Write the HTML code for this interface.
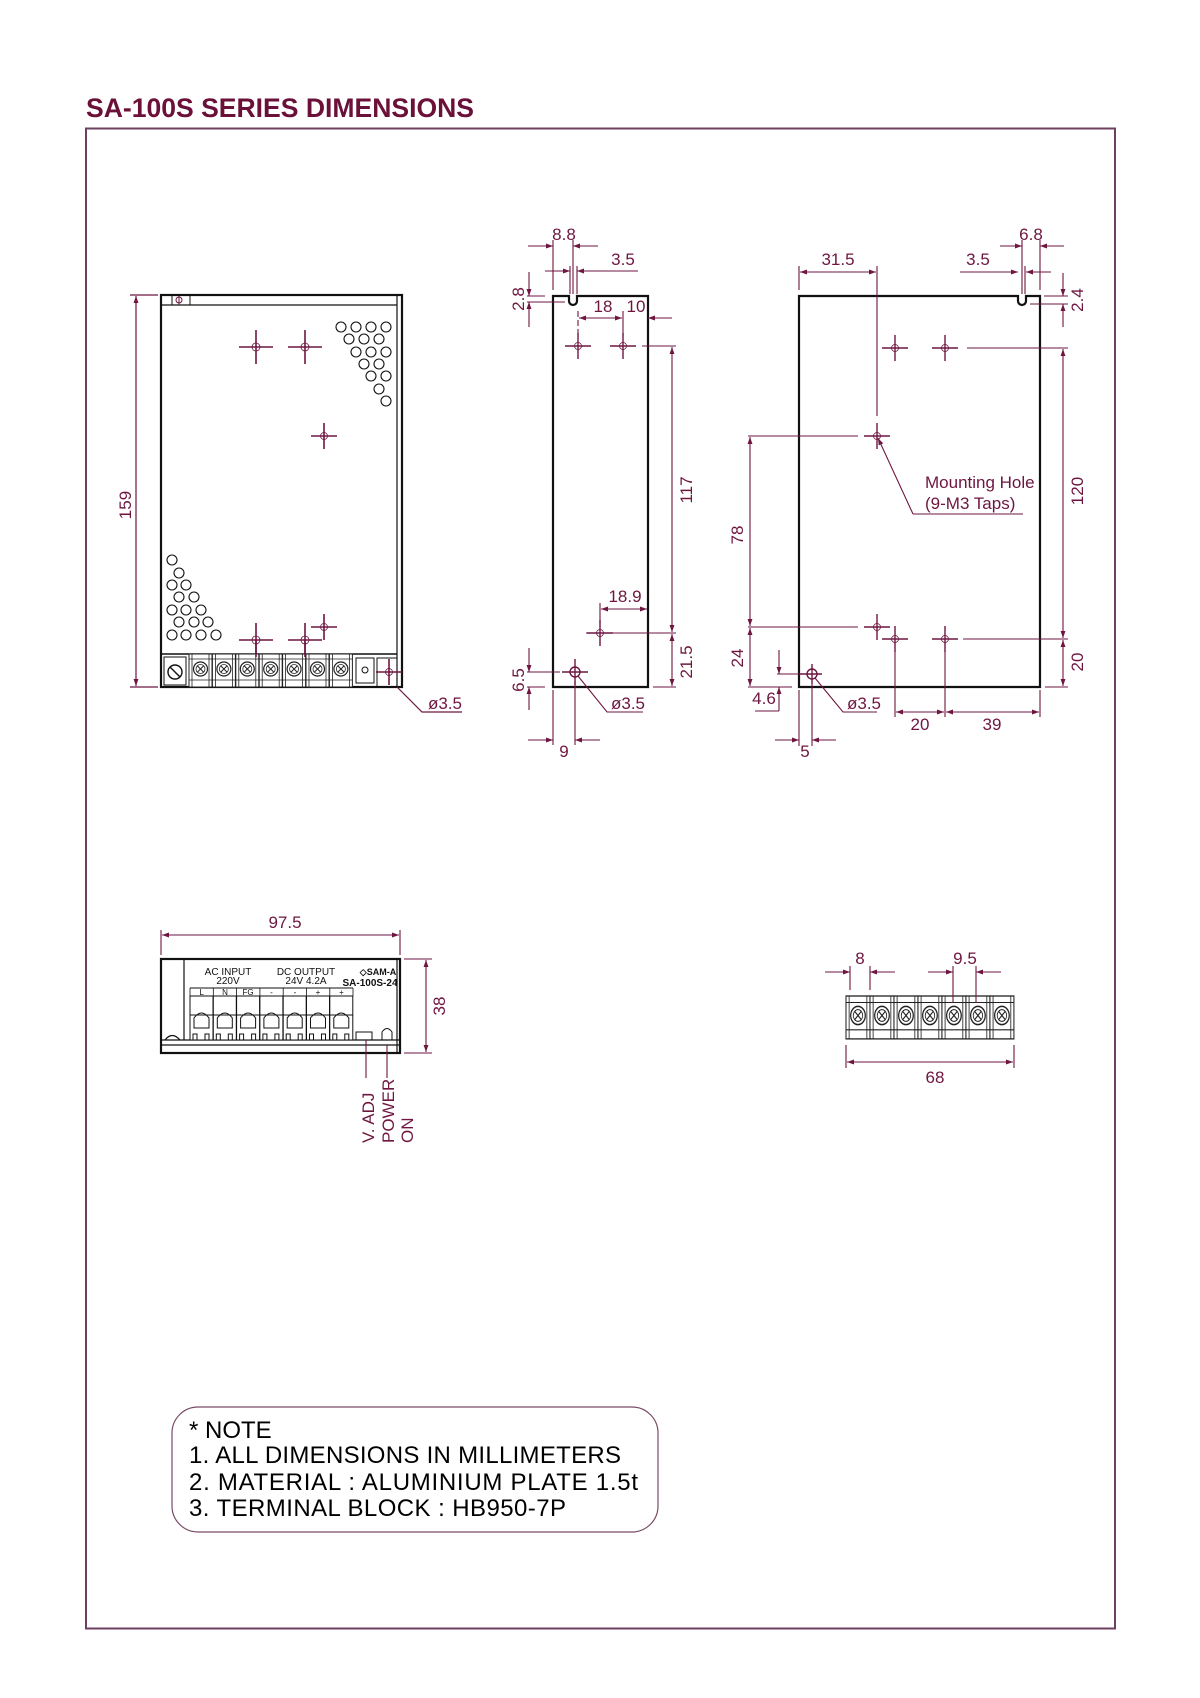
<!DOCTYPE html>
<html><head><meta charset="utf-8"><style>
html,body{margin:0;padding:0;background:#fff}
svg{display:block}
text{font-family:"Liberation Sans",sans-serif}
</style></head><body>
<svg width="1200" height="1698" viewBox="0 0 1200 1698" xmlns="http://www.w3.org/2000/svg">
<defs>
<marker id="a" viewBox="0 0 10 10" refX="10" refY="5" markerWidth="9" markerHeight="7" orient="auto-start-reverse" markerUnits="userSpaceOnUse"><path d="M0,1.5 L10,5 L0,8.5 z" fill="#6e1640"/></marker>
<g id="tb">
<rect x="0" y="0" width="23" height="33" fill="#fff" stroke="#222" stroke-width="1"/>
<line x1="0" y1="5" x2="23" y2="5" stroke="#222" stroke-width="0.8"/>
<line x1="0" y1="26" x2="23" y2="26" stroke="#222" stroke-width="0.8"/>
<line x1="3" y1="0" x2="3" y2="33" stroke="#222" stroke-width="0.8"/>
<line x1="20" y1="0" x2="20" y2="33" stroke="#222" stroke-width="0.8"/>
<circle cx="11.5" cy="15" r="7" fill="#fff" stroke="#222" stroke-width="1.2"/>
<circle cx="11.5" cy="15" r="4.5" fill="none" stroke="#222" stroke-width="0.8"/>
<path d="M8.5,12 L14.5,18 M14.5,12 L8.5,18" stroke="#222" stroke-width="1"/>
</g>
<g id="bt" fill="#fff" stroke="#111" stroke-width="1">
<rect x="0" y="996" width="23" height="44"/>
<path d="M4,1018 Q11.5,1008 19,1018 V1028 H4 Z" fill="none"/>
<line x1="0" y1="1015" x2="23" y2="1015"/>
<rect x="3" y="1034" width="4" height="6"/><rect x="15" y="1034" width="4" height="6"/>
</g>
<g id="hx"><line x1="-17" y1="0" x2="17" y2="0"/><line x1="0" y1="-17" x2="0" y2="17"/><circle r="4" fill="none" stroke-width="0.8"/></g>
<g id="hs"><line x1="-13" y1="0" x2="13" y2="0"/><line x1="0" y1="-13" x2="0" y2="13"/><circle r="3.5" fill="none" stroke-width="0.8"/></g>
</defs>

<text x="86" y="117" font-size="27" font-weight="bold" fill="#6b1038" textLength="388" lengthAdjust="spacingAndGlyphs">SA-100S  SERIES  DIMENSIONS</text>
<rect x="86" y="128.5" width="1029" height="1500" fill="none" stroke="#6e4060" stroke-width="2"/>

<!-- ===== FRONT VIEW ===== -->
<g stroke="#111" fill="none">
<rect x="161" y="295" width="241" height="392" stroke-width="2.2"/>
<line x1="397" y1="295" x2="397" y2="687" stroke-width="1.2"/>
<line x1="161" y1="305" x2="397" y2="305" stroke-width="1.2"/>
<line x1="190" y1="295" x2="190" y2="305" stroke-width="1"/>
<line x1="172" y1="295" x2="172" y2="305" stroke-width="1"/>
<line x1="161" y1="654" x2="397" y2="654" stroke-width="1.6"/>
<rect x="164" y="657" width="22" height="28" stroke-width="1"/>
<circle cx="175" cy="672" r="7" stroke-width="1.4"/>
<path d="M170,667 L180,677" stroke-width="1.4"/>
<rect x="356" y="658" width="18" height="25" stroke-width="1"/>
<circle cx="365" cy="670" r="3" stroke-width="1"/>
<rect x="377" y="658" width="20" height="29" stroke-width="1"/>
</g>
<g fill="none" stroke="#111" stroke-width="1.1">
<circle cx="341" cy="327" r="5"/><circle cx="356" cy="327" r="5"/><circle cx="371" cy="327" r="5"/><circle cx="386" cy="327" r="5"/>
<circle cx="349" cy="339" r="5"/><circle cx="364" cy="339" r="5"/><circle cx="379" cy="339" r="5"/>
<circle cx="356" cy="352" r="5"/><circle cx="371" cy="352" r="5"/><circle cx="386" cy="352" r="5"/>
<circle cx="364" cy="364" r="5"/><circle cx="379" cy="364" r="5"/>
<circle cx="371" cy="376" r="5"/><circle cx="386" cy="376" r="5"/>
<circle cx="379" cy="389" r="5"/>
<circle cx="386" cy="401" r="5"/>
<circle cx="172" cy="560" r="5"/>
<circle cx="179" cy="573" r="5"/>
<circle cx="172" cy="585" r="5"/><circle cx="186" cy="585" r="5"/>
<circle cx="179" cy="597" r="5"/><circle cx="194" cy="597" r="5"/>
<circle cx="172" cy="610" r="5"/><circle cx="186" cy="610" r="5"/><circle cx="201" cy="610" r="5"/>
<circle cx="179" cy="622" r="5"/><circle cx="194" cy="622" r="5"/><circle cx="208" cy="622" r="5"/>
<circle cx="172" cy="635" r="5"/><circle cx="186" cy="635" r="5"/><circle cx="201" cy="635" r="5"/><circle cx="216" cy="635" r="5"/>
</g>
<g transform="translate(189,654)">
<use href="#tb" x="0"/><use href="#tb" x="23.4"/><use href="#tb" x="46.8"/><use href="#tb" x="70.2"/><use href="#tb" x="93.6"/><use href="#tb" x="117"/><use href="#tb" x="140.4"/>
</g>
<g stroke="#6e1640" stroke-width="1.6" fill="none">
<use href="#hx" x="256" y="347"/><use href="#hx" x="305" y="347"/>
<use href="#hs" x="324" y="436"/>
<use href="#hx" x="256" y="640"/><use href="#hx" x="305" y="640"/>
<use href="#hs" x="324" y="627"/>
<use href="#hs" x="389" y="672"/>
<line x1="256" y1="640" x2="256" y2="654"/><line x1="305" y1="640" x2="305" y2="654"/>
</g>
<g stroke="#6e1640" stroke-width="1" fill="none"><circle cx="179" cy="300" r="3"/><line x1="179" y1="296" x2="179" y2="305"/></g>
<g stroke="#6e1640" stroke-width="1.2" fill="none">
<line x1="130" y1="295" x2="158" y2="295"/><line x1="130" y1="687" x2="158" y2="687"/>
<line x1="136" y1="296" x2="136" y2="686" marker-start="url(#a)" marker-end="url(#a)"/>
<polyline points="397,687 422,712 462,712"/>
</g>
<text transform="translate(131,505) rotate(-90)" font-size="17" fill="#6e1640" text-anchor="middle">159</text>
<text x="428" y="709" font-size="17" fill="#6e1640">ø3.5</text>

<!-- ===== SIDE VIEW ===== -->
<g stroke="#111" stroke-width="2.2" fill="none">
<path d="M553,296 H569 V301 A4,4 0 0 0 577,301 V296 H648 V687 H553 Z"/>
</g>
<g stroke="#6e1640" stroke-width="1.4" fill="none">
<use href="#hs" x="578" y="346"/><use href="#hs" x="623" y="346"/><use href="#hs" x="600" y="633"/>
<line x1="562" y1="672" x2="588" y2="672"/><line x1="575" y1="659" x2="575" y2="685"/><circle cx="575" cy="672" r="5"/>
</g>
<g stroke="#6e1640" stroke-width="1.1" fill="none">
<line x1="553" y1="240" x2="553" y2="290"/><line x1="573" y1="240" x2="573" y2="294"/>
<line x1="528" y1="246" x2="553" y2="246" marker-end="url(#a)"/><line x1="598" y1="246" x2="573" y2="246" marker-end="url(#a)"/>
<line x1="570" y1="266" x2="570" y2="294"/><line x1="577" y1="266" x2="577" y2="294"/>
<line x1="545" y1="271" x2="570" y2="271" marker-end="url(#a)"/><line x1="638" y1="271" x2="577" y2="271" marker-end="url(#a)"/>
<line x1="527" y1="296" x2="545" y2="296"/><line x1="527" y1="302" x2="565" y2="302"/>
<line x1="529" y1="272" x2="529" y2="296" marker-end="url(#a)"/><line x1="529" y1="327" x2="529" y2="302" marker-end="url(#a)"/>
<line x1="578" y1="311" x2="578" y2="336" stroke-dasharray="6,3"/><line x1="623" y1="311" x2="623" y2="336"/>
<line x1="579" y1="318" x2="622" y2="318" marker-start="url(#a)" marker-end="url(#a)"/>
<line x1="672" y1="318" x2="648" y2="318" marker-end="url(#a)"/>
<line x1="642" y1="346" x2="676" y2="346"/>
<line x1="672" y1="347" x2="672" y2="632" marker-start="url(#a)" marker-end="url(#a)"/>
<line x1="586" y1="633" x2="676" y2="633"/>
<line x1="672" y1="634" x2="672" y2="686" marker-start="url(#a)" marker-end="url(#a)"/>
<line x1="653" y1="687" x2="676" y2="687"/>
<line x1="600" y1="603" x2="600" y2="624"/>
<line x1="601" y1="609" x2="647" y2="609" marker-start="url(#a)" marker-end="url(#a)"/>
<line x1="527" y1="672" x2="560" y2="672"/><line x1="527" y1="687" x2="545" y2="687"/>
<line x1="529" y1="648" x2="529" y2="672" marker-end="url(#a)"/><line x1="529" y1="710" x2="529" y2="687" marker-end="url(#a)"/>
<line x1="553" y1="690" x2="553" y2="745"/><line x1="575" y1="681" x2="575" y2="745"/>
<line x1="528" y1="740" x2="553" y2="740" marker-end="url(#a)"/><line x1="600" y1="740" x2="575" y2="740" marker-end="url(#a)"/>
<polyline points="578,676 607,712 643,712"/>
</g>
<g font-size="17" fill="#6e1640">
<text x="564" y="240" text-anchor="middle">8.8</text>
<text x="623" y="265" text-anchor="middle">3.5</text>
<text transform="translate(524,299) rotate(-90)" text-anchor="middle">2.8</text>
<text x="603" y="312" text-anchor="middle">18</text>
<text x="636" y="312" text-anchor="middle">10</text>
<text transform="translate(692,490) rotate(-90)" text-anchor="middle">117</text>
<text x="625" y="602" text-anchor="middle">18.9</text>
<text transform="translate(692,662) rotate(-90)" text-anchor="middle">21.5</text>
<text transform="translate(524,680) rotate(-90)" text-anchor="middle">6.5</text>
<text x="611" y="709">ø3.5</text>
<text x="564" y="757" text-anchor="middle">9</text>
</g>

<!-- ===== BACK VIEW ===== -->
<g stroke="#111" stroke-width="2.2" fill="none">
<path d="M799,296 H1018 V301 A4,4 0 0 0 1026,301 V296 H1040 V687 H799 Z"/>
</g>
<g stroke="#6e1640" stroke-width="1.4" fill="none">
<use href="#hs" x="895" y="348"/><use href="#hs" x="945" y="348"/>
<use href="#hs" x="877" y="436"/><use href="#hs" x="877" y="627"/>
<use href="#hs" x="895" y="639"/><use href="#hs" x="945" y="639"/>
<line x1="800" y1="674" x2="822" y2="674"/><line x1="812" y1="664" x2="812" y2="684"/><circle cx="812" cy="674" r="5"/>
</g>
<g stroke="#6e1640" stroke-width="1.1" fill="none">
<line x1="799" y1="266" x2="799" y2="290"/><line x1="877" y1="266" x2="877" y2="416"/>
<line x1="800" y1="272" x2="876" y2="272" marker-start="url(#a)" marker-end="url(#a)"/>
<line x1="1022" y1="240" x2="1022" y2="294"/><line x1="1025" y1="266" x2="1025" y2="294"/><line x1="1040" y1="240" x2="1040" y2="290"/>
<line x1="960" y1="272" x2="1018" y2="272" marker-end="url(#a)"/><line x1="1051" y1="272" x2="1026" y2="272" marker-end="url(#a)"/>
<line x1="1000" y1="246" x2="1022" y2="246" marker-end="url(#a)"/><line x1="1064" y1="246" x2="1040" y2="246" marker-end="url(#a)"/>
<line x1="1044" y1="296" x2="1068" y2="296"/><line x1="1030" y1="304" x2="1068" y2="304"/>
<line x1="1063" y1="273" x2="1063" y2="296" marker-end="url(#a)"/><line x1="1063" y1="327" x2="1063" y2="304" marker-end="url(#a)"/>
<line x1="967" y1="348" x2="1068" y2="348"/>
<line x1="1063" y1="349" x2="1063" y2="638" marker-start="url(#a)" marker-end="url(#a)"/>
<line x1="963" y1="639" x2="1068" y2="639"/>
<line x1="1063" y1="640" x2="1063" y2="686" marker-start="url(#a)" marker-end="url(#a)"/>
<line x1="1045" y1="687" x2="1068" y2="687"/>
<line x1="748" y1="436" x2="858" y2="436"/><line x1="748" y1="627" x2="858" y2="627"/>
<line x1="750" y1="437" x2="750" y2="626" marker-start="url(#a)" marker-end="url(#a)"/>
<line x1="750" y1="628" x2="750" y2="686" marker-start="url(#a)" marker-end="url(#a)"/>
<line x1="748" y1="687" x2="792" y2="687"/><line x1="777" y1="674" x2="800" y2="674"/>
<line x1="779" y1="650" x2="779" y2="674" marker-end="url(#a)"/><line x1="779" y1="711" x2="779" y2="687" marker-end="url(#a)"/>
<line x1="755" y1="711" x2="779" y2="711"/>
<line x1="799" y1="690" x2="799" y2="746"/><line x1="812" y1="683" x2="812" y2="746"/>
<line x1="775" y1="740" x2="799" y2="740" marker-end="url(#a)"/><line x1="836" y1="740" x2="812" y2="740" marker-end="url(#a)"/>
<line x1="895" y1="650" x2="895" y2="717"/><line x1="945" y1="650" x2="945" y2="717"/><line x1="1040" y1="690" x2="1040" y2="717"/>
<line x1="896" y1="712" x2="944" y2="712" marker-start="url(#a)" marker-end="url(#a)"/>
<line x1="946" y1="712" x2="1039" y2="712" marker-start="url(#a)" marker-end="url(#a)"/>
<line x1="878" y1="438" x2="913" y2="514" marker-start="url(#a)"/>
<line x1="913" y1="514" x2="1023" y2="514"/>
<polyline points="815,678 843,712 877,712"/>
</g>
<g font-size="17" fill="#6e1640">
<text x="838" y="265" text-anchor="middle">31.5</text>
<text x="978" y="265" text-anchor="middle">3.5</text>
<text x="1031" y="240" text-anchor="middle">6.8</text>
<text transform="translate(1083,300) rotate(-90)" text-anchor="middle">2.4</text>
<text transform="translate(1083,491) rotate(-90)" text-anchor="middle">120</text>
<text transform="translate(1083,662) rotate(-90)" text-anchor="middle">20</text>
<text transform="translate(743,535) rotate(-90)" text-anchor="middle">78</text>
<text transform="translate(743,658) rotate(-90)" text-anchor="middle">24</text>
<text x="764" y="704" text-anchor="middle">4.6</text>
<text x="805" y="757" text-anchor="middle">5</text>
<text x="920" y="730" text-anchor="middle">20</text>
<text x="992" y="730" text-anchor="middle">39</text>
<text x="847" y="709">ø3.5</text>
<text x="925" y="488">Mounting Hole</text>
<text x="925" y="509">(9-M3 Taps)</text>
</g>

<!-- ===== BOTTOM/SIDE VIEW ===== -->
<g stroke="#111" fill="none">
<rect x="161" y="959" width="239" height="94" stroke-width="2.2"/>
<line x1="184" y1="959" x2="184" y2="1040" stroke-width="1.2"/>
<line x1="397" y1="959" x2="397" y2="1053" stroke-width="1.2"/>
<line x1="161" y1="1040" x2="400" y2="1040" stroke-width="1.2"/>
<line x1="161" y1="1045" x2="400" y2="1045" stroke-width="1.2"/>
<path d="M165,1040 Q172,1031 180,1040" stroke-width="1.2"/>
<line x1="190" y1="988" x2="353" y2="988" stroke-width="1"/>
<line x1="190" y1="996" x2="353" y2="996" stroke-width="1"/>
<rect x="356" y="1032" width="16" height="8" stroke-width="1"/>
<path d="M382,1040 V1032 Q387,1025 392,1032 V1040" stroke-width="1"/>
</g>
<use href="#bt" x="190"/><use href="#bt" x="213.3"/><use href="#bt" x="236.6"/><use href="#bt" x="259.9"/><use href="#bt" x="283.2"/><use href="#bt" x="306.5"/><use href="#bt" x="329.8"/>
<g stroke="#111" stroke-width="0.8">
<line x1="190" y1="988" x2="190" y2="996"/><line x1="213.3" y1="988" x2="213.3" y2="996"/><line x1="236.6" y1="988" x2="236.6" y2="996"/><line x1="259.9" y1="988" x2="259.9" y2="996"/><line x1="283.2" y1="988" x2="283.2" y2="996"/><line x1="306.5" y1="988" x2="306.5" y2="996"/><line x1="329.8" y1="988" x2="329.8" y2="996"/><line x1="353" y1="988" x2="353" y2="996"/>
</g>
<g font-size="10" fill="#111" text-anchor="middle">
<text x="228" y="975">AC INPUT</text><text x="228" y="984">220V</text>
<text x="306" y="975">DC OUTPUT</text><text x="306" y="984">24V  4.2A</text>
<text x="378" y="975" font-weight="bold" font-size="9">◇SAM-A</text>
<text x="370" y="986" font-weight="bold" font-size="10">SA-100S-24</text>
</g>
<g font-size="8" fill="#111" text-anchor="middle">
<text x="201.6" y="995">L</text><text x="225" y="995">N</text><text x="248" y="995">FG</text><text x="271.5" y="995">-</text><text x="295" y="995">-</text><text x="318" y="995">+</text><text x="341.5" y="995">+</text>
</g>
<g stroke="#6e1640" stroke-width="1.1" fill="none">
<line x1="161" y1="930" x2="161" y2="955"/><line x1="400" y1="930" x2="400" y2="955"/>
<line x1="162" y1="935" x2="399" y2="935" marker-start="url(#a)" marker-end="url(#a)"/>
<line x1="404" y1="959" x2="432" y2="959"/><line x1="404" y1="1053" x2="432" y2="1053"/>
<line x1="426" y1="960" x2="426" y2="1052" marker-start="url(#a)" marker-end="url(#a)"/>
<line x1="366" y1="1040" x2="366" y2="1078"/><line x1="387" y1="1045" x2="387" y2="1078"/>
</g>
<g font-size="17" fill="#6e1640">
<text x="285" y="928" text-anchor="middle">97.5</text>
<text transform="translate(445,1006) rotate(-90)" text-anchor="middle">38</text>
<text transform="translate(374,1143) rotate(-90)">V. ADJ</text>
<text transform="translate(394,1143) rotate(-90)">POWER</text>
<text transform="translate(413,1143) rotate(-90)">ON</text>
</g>

<!-- ===== TERMINAL BLOCK ===== -->
<g transform="translate(846,996) scale(1.043,1.3)">
<use href="#tb" x="0"/><use href="#tb" x="23"/><use href="#tb" x="46"/><use href="#tb" x="69"/><use href="#tb" x="92"/><use href="#tb" x="115"/><use href="#tb" x="138"/>
</g>
<g stroke="#6e1640" stroke-width="1.1" fill="none">
<line x1="850" y1="966" x2="850" y2="990"/><line x1="870" y1="966" x2="870" y2="990"/>
<line x1="825" y1="972" x2="850" y2="972" marker-end="url(#a)"/><line x1="895" y1="972" x2="870" y2="972" marker-end="url(#a)"/>
<line x1="953" y1="966" x2="953" y2="1003"/><line x1="976" y1="966" x2="976" y2="1003"/>
<line x1="928" y1="972" x2="953" y2="972" marker-end="url(#a)"/><line x1="1001" y1="972" x2="976" y2="972" marker-end="url(#a)"/>
<line x1="846" y1="1045" x2="846" y2="1068"/><line x1="1014" y1="1045" x2="1014" y2="1068"/>
<line x1="847" y1="1062" x2="1013" y2="1062" marker-start="url(#a)" marker-end="url(#a)"/>
</g>
<g font-size="17" fill="#6e1640" text-anchor="middle">
<text x="860" y="964">8</text><text x="965" y="964">9.5</text><text x="935" y="1083">68</text>
</g>

<!-- ===== NOTE ===== -->
<rect x="172" y="1407" width="486" height="125" rx="26" fill="none" stroke="#7a4a66" stroke-width="1.2"/>
<g font-size="24" fill="#000">
<text x="189" y="1438">*  NOTE</text>
<text x="189" y="1463" textLength="432">1.  ALL  DIMENSIONS  IN  MILLIMETERS</text>
<text x="189" y="1490" textLength="449">2.  MATERIAL  :  ALUMINIUM  PLATE  1.5t</text>
<text x="189" y="1516" textLength="377">3.  TERMINAL  BLOCK  :  HB950-7P</text>
</g>
</svg>
</body></html>
